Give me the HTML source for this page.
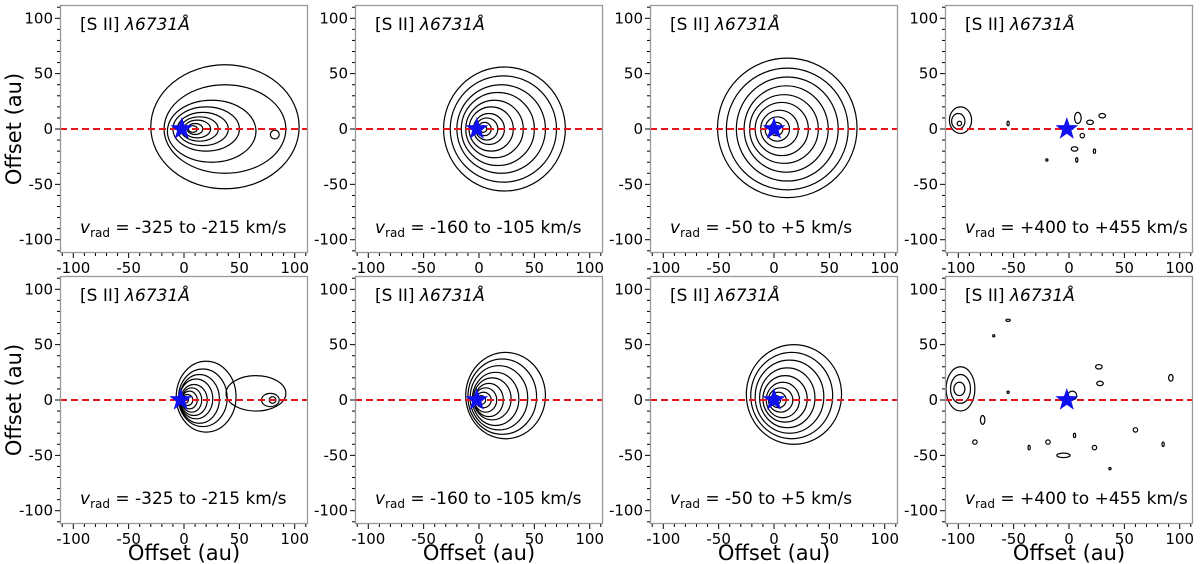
<!DOCTYPE html>
<html><head><meta charset="utf-8"><style>
body{margin:0;background:#fff;}
svg{display:block;font-family:"DejaVu Sans","Liberation Sans",sans-serif;}
</style></head><body>
<svg id="fig" width="1200" height="564" viewBox="0 0 1200 564"></svg>
<script>
const NS="http://www.w3.org/2000/svg";
const panelLefts=[60,355,650,945];
const panelTops=[5,276];
const xTicks=[-100,-50,0,50,100];
const yTicks=[-100,-50,0,50,100];
const velLabels=["-325 to -215 km/s","-160 to -105 km/s","-50 to +5 km/s","+400 to +455 km/s"];
const starX=[[-2,-2,0,-2],[-3,-2,0,-2]];
const contoursR1C1=[[37,2,67,56],[37,0,55,40],[25,-2,40,28],[20,0,30,20],[17,0,23,15],[14,0,17,11],[12,0,12,8],[10,0,7,5],[8,0,4,3],[82,-5,4,4]];
const contoursR1C2=[[23,0,55,56],[22,0,48,48],[20,0,40,40],[17,0,33,33],[14,0,26,26],[11,0,20,20],[9,0,14,14],[7,0,10,10],[5,0,6,6],[4,0,3,3]];
const contoursR1C3=[[12,1,63,63],[12,0,55,55],[12,0,46,47],[11,0,38,39],[9,0,31,31],[7,0,24,24],[5,0,17,17],[3,0,11,11],[2,0,6,6]];
const contoursR1C4=[[-98,8,10,12],[-100,7,6,7],[-99,5,2,2],[8,10,3,5],[19,6,3,2],[30,12,3,2],[12,-6,2,2],[-55,5,1,2],[5,-18,3,2],[23,-20,1,2],[-20,-28,1,1],[7,-28,1,2]];
const contoursR2C1=[[20,3,27,32],[17,2,22,26],[14,1,18,22],[11,1,15,18],[9,0,12,14],[7,0,9,11],[5,0,7,8],[3,0,5,5],[1,0,3,3],[65,6,27,16],[78,0,8,6],[80,0,3,3]];
const contoursR2C2=[[24,4,36,39],[21,3,31,34],[18,2,26,29],[15,1,21,24],[12,1,17,19],[9,0,13,15],[6,0,10,11],[4,0,7,7],[2,0,4,4]];
const contoursR2C3=[[18,5,43,45],[16,4,37,39],[14,3,31,33],[12,2,25,27],[10,1,20,21],[8,0,15,16],[6,0,11,11],[4,0,7,7],[2,0,4,4]];
const contoursR2C4=[[-98,10,13,20],[-98,10,9,13],[-99,10,5,6],[-78,-18,2,4],[-55,72,2,1],[-68,58,1,1],[27,30,3,2],[28,15,3,2],[92,20,2,3],[60,-27,2,2],[85,-40,1,2],[23,-43,2,2],[-36,-43,1,2],[-5,-50,6,2],[-85,-38,2,2],[37,-62,1,1],[5,-32,1,2],[-19,-38,2,2],[3,4,4,4],[-55,7,1,1]];
const contours=[[contoursR1C1,contoursR1C2,contoursR1C3,contoursR1C4],[contoursR2C1,contoursR2C2,contoursR2C3,contoursR2C4]];
const SIZE=248, RANGE=112;
const svg=document.getElementById('fig');
function el(tag,attrs,parent){const e=document.createElementNS(NS,tag);for(const k in attrs)e.setAttribute(k,attrs[k]);(parent||svg).appendChild(e);return e;}
function starPath(cx,cy,R){const r=R*0.4;let d="";for(let i=0;i<10;i++){const a=-Math.PI/2+i*Math.PI/5;const rr=i%2?r:R;d+=(i?"L":"M")+(cx+rr*Math.cos(a)).toFixed(1)+","+(cy+rr*Math.sin(a)).toFixed(1);}return d+"Z";}
for(let r=0;r<2;r++)for(let c=0;c<4;c++){
  const L=panelLefts[c],T=panelTops[r];
  const sx=v=>L+(v+RANGE)/(2*RANGE)*SIZE;
  const sy=v=>T+(RANGE-v)/(2*RANGE)*SIZE;
  const g=el('g',{});
  
  
  el('rect',{x:L,y:T,width:SIZE,height:SIZE,fill:'#fff'},g);
  const cg=el('g',{fill:'none',stroke:'#000','stroke-width':1.2},g);
  
  
  contours[r][c].forEach(k=>{
    const e=el('ellipse',{cx:sx(k[0]),cy:sy(k[1]),rx:k[2]*SIZE/(2*RANGE),ry:k[3]*SIZE/(2*RANGE)},cg);
    
    
  });
  const ln=el('line',{x1:L,x2:L+SIZE,y1:sy(0),y2:sy(0),stroke:'#e8141c','stroke-width':2,'stroke-dasharray':'7,4'},g);
  
  
  const st=el('path',{d:starPath(sx(starX[r][c]),sy(0),12),fill:'#1010ee'},g);
  
  
  el('rect',{x:L+0.5,y:T+0.5,width:SIZE-1,height:SIZE-1,fill:'none',stroke:'#999','stroke-width':1.3},g);
  for(let v=-110;v<=110;v+=10){
    const maj=v%50===0;
    el('line',{x1:sx(v),x2:sx(v),y1:T+SIZE,y2:T+SIZE+(maj?5:3),stroke:'#000','stroke-width':1},g);
    el('line',{x1:L,x2:L-(maj?5:3),y1:sy(v),y2:sy(v),stroke:'#000','stroke-width':1},g);
  }
  xTicks.forEach(v=>{const t=el('text',{x:sx(v),y:T+SIZE+20,'font-size':15,'text-anchor':'middle'},g);t.textContent=v;
    });
  yTicks.forEach(v=>{const t=el('text',{x:L-7,y:sy(v)+5,'font-size':15,'text-anchor':'end'},g);t.textContent=v;
    });
  const tt=el('text',{x:L+20,y:T+25,'font-size':17},g);
  tt.innerHTML='[S II] <tspan font-style="italic">λ6731Å</tspan>';
  
  
  const vt=el('text',{x:L+20,y:T+228,'font-size':17},g);
  vt.innerHTML='<tspan font-style="italic">v</tspan><tspan font-size="12" dy="4">rad</tspan><tspan dy="-4"> = '+velLabels[c]+'</tspan>';
  
  
  if(c===0){
    const yl=el('text',{x:0,y:0,'font-size':21,'text-anchor':'middle',transform:'translate(21,'+(T+SIZE/2)+') rotate(-90)'});
    yl.textContent='Offset (au)';
    
    
  }
  if(r===1){
    const xl=el('text',{x:L+SIZE/2,y:560,'font-size':21,'text-anchor':'middle'});
    xl.textContent='Offset (au)';
    
    
  }
}
</script>
</body></html>
